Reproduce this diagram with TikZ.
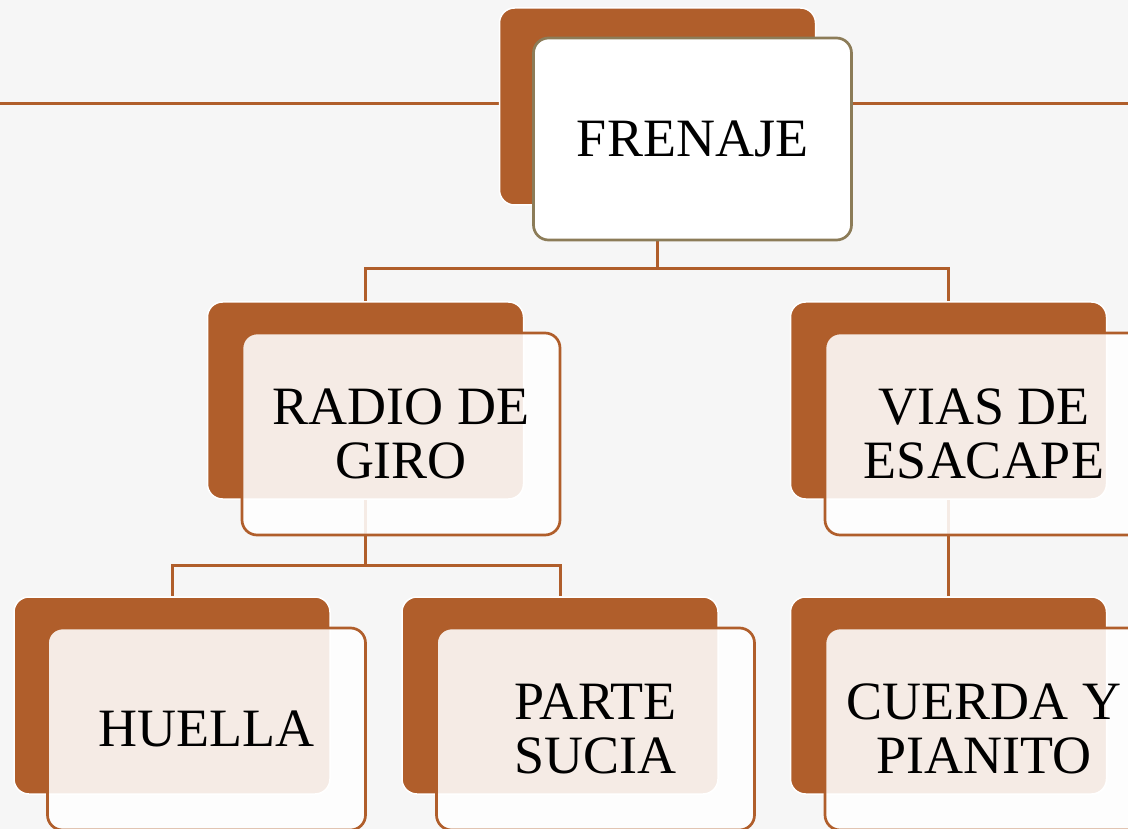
\documentclass[tikz,border=0pt]{standalone}
\usepackage{fontspec}
\setmainfont{Liberation Serif}
\definecolor{rust}{HTML}{B05E2B}
\definecolor{olivegray}{HTML}{8C7C58}
\definecolor{paper}{HTML}{F6F6F6}
\pgfdeclarelayer{bglayer}
\pgfdeclarelayer{linelayer}
\pgfsetlayers{bglayer,linelayer,main}
\begin{document}
\begin{tikzpicture}[x=1pt,y=-1pt,
  backbox/.style={fill=rust, draw=white, line width=1.5pt, rounded corners=15pt,
    minimum width=316pt, minimum height=197pt, inner sep=0pt},
  frontbox/.style={fill=white, fill opacity=0.88, text opacity=1, draw=rust, draw opacity=1,
    line width=2.7pt, rounded corners=15pt, minimum width=318pt, minimum height=202pt,
    inner sep=0pt, align=center, font=\fontsize{54}{54}\selectfont},
  rootbox/.style={frontbox, fill opacity=1, draw=olivegray},
  conn/.style={draw=rust, line width=3pt},
]
\clip (0,0) rectangle (1128,829);
% nodes
\node[backbox] (fb) at (657.5,106.5) {};
\node[rootbox] (ff) at (692.5,139) {FRENAJE};
\node[backbox] (rb) at (365.5,400.5) {};
\node[frontbox] (rf) at (401,434) {RADIO DE\\GIRO};
\node[backbox] (vb) at (948.5,400.5) {};
\node[frontbox] (vf) at (984,434) {VIAS DE\\ESACAPE};
\node[backbox] (hb) at (172,695.5) {};
\node[frontbox] (hf) at (206.5,729) {HUELLA};
\node[backbox] (pb) at (560,695.5) {};
\node[frontbox] (pf) at (595.5,729) {PARTE\\SUCIA};
\node[backbox] (cb) at (948.5,695.5) {};
\node[frontbox] (cf) at (984,729) {CUERDA Y\\PIANITO};
\begin{pgfonlayer}{bglayer}
  \fill[paper] (0,0) rectangle (1128,829);
  \coordinate (tl) at (0,104);
  \coordinate (tr) at (1128,104);
  \draw[conn] (tl) -- (tr);
\end{pgfonlayer}
\begin{pgfonlayer}{linelayer}
  \coordinate (j1) at (657.5,269);
  \coordinate (j2) at (365.5,565);
  \draw[conn] (fb.south) -- (j1) -| (rb.north);
  \draw[conn] (j1) -| (vb.north);
  \draw[conn] (rb.south) -- (j2) -| (hb.north);
  \draw[conn] (j2) -| (pb.north);
  \draw[conn] (vb.south) -- (cb.north);
\end{pgfonlayer}
\end{tikzpicture}
\end{document}
